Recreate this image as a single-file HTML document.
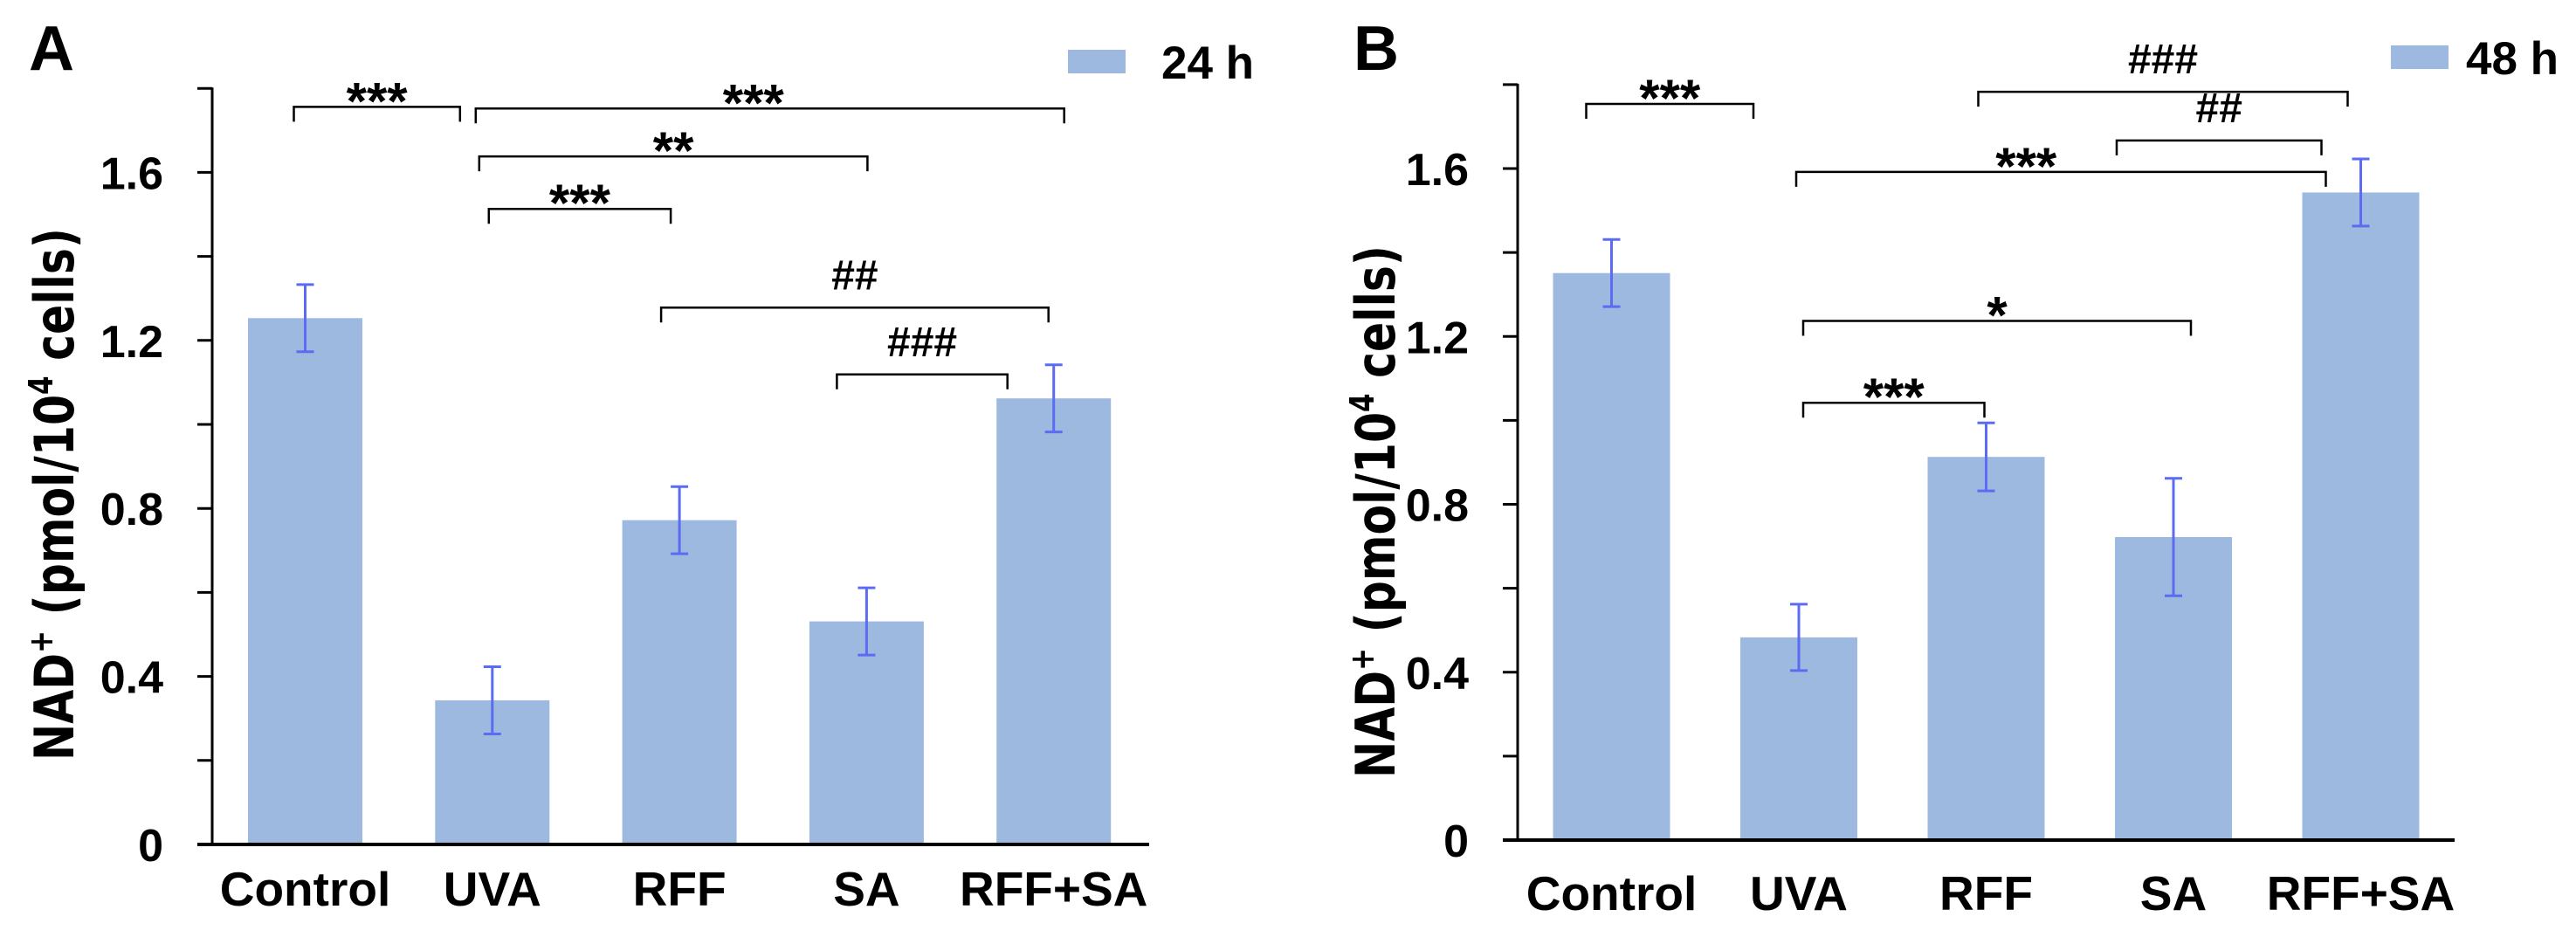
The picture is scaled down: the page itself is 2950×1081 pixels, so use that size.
<!DOCTYPE html>
<html><head><meta charset="utf-8"><style>
html,body{margin:0;padding:0;background:#fff}
svg{display:block}
text{font-family:"Liberation Sans",Arial,sans-serif;font-weight:bold;fill:#000}
</style></head><body>
<svg id="chart" width="2950" height="1081" viewBox="0 0 2950 1081" xmlns="http://www.w3.org/2000/svg"></svg>
<script>
const categories = ["Control","UVA","RFF","SA","RFF+SA"];
const valuesA = [1.253, 0.343, 0.772, 0.531, 1.062];
const errorsA = [0.08, 0.08, 0.08, 0.08, 0.08];
const valuesB = [1.351, 0.483, 0.913, 0.722, 1.543];
const errorsB = [0.08, 0.079, 0.081, 0.14, 0.08];
const yTicks = [0, 0.4, 0.8, 1.2, 1.6];
const yTickLabels = ["0","0.4","0.8","1.2","1.6"];
const yMinor = [0.2, 0.6, 1.0, 1.4, 1.8];
// significance: [fromIndex, fromOffset, toIndex, toOffset, label, level, textShift]
const sigA = [[0,-13,1,-37,"***",1.756,0],[1,-19,4,12,"***",1.752,-19],[1,-15,3,1,"**",1.638,0],[1,-4,2,-10,"***",1.513,0],[2,-21,4,-6,"##",1.278,0],[3,-34,4,-53,"###",1.119,0]];
const sigB = [[0,-29,1,-52,"***",1.754,0],[2,-9,4,-15,"###",1.783,0],[3,-65,4,-45,"##",1.667,0],[1,-3,4,-40,"***",1.592,-40],[1,5,3,20,"*",1.237,0],[1,5,2,-2,"***",1.042,0]];

const NS = "http://www.w3.org/2000/svg";
const svg = document.getElementById('chart');
function mk(tag, attrs, parent){
  const e = document.createElementNS(NS, tag);
  for (const k in attrs) e.setAttribute(k, attrs[k]);
  (parent||svg).appendChild(e);
  return e;
}

function panel(cfg){
  const g = mk('g', {});
  
  
  const x0 = cfg.axisX, y0 = cfg.zeroY, ppu = cfg.ppu;
  const yS = v => y0 - v*ppu;
  const xC = i => cfg.firstCenter + i*cfg.step;
  cfg.values.forEach((v,i)=>{
    const r = mk('rect', {x: xC(i)-cfg.barW/2, y: yS(v), width: cfg.barW, height: y0 - yS(v), fill:'#9db9df'}, g);
    
    
  });
  cfg.values.forEach((v,i)=>{
    const eg = mk('g', {stroke:'#5b6cf2','stroke-width':3}, g);
    
    
    const hi = yS(v + cfg.errors[i]), lo = yS(v - cfg.errors[i]), cx = xC(i);
    mk('line', {x1:cx, x2:cx, y1:hi, y2:lo}, eg);
    mk('line', {x1:cx-10, x2:cx+10, y1:hi, y2:hi}, eg);
    mk('line', {x1:cx-10, x2:cx+10, y1:lo, y2:lo}, eg);
  });
  const ax = mk('g', {stroke:'#000','stroke-width':3}, g);
  
  
  mk('line', {x1:x0, x2:x0, y1:yS(1.8)-1, y2:y0+1.5}, ax);
  yTicks.concat(yMinor).forEach(t=>{
    mk('line', {x1:x0-17, x2:x0, y1:yS(t), y2:yS(t)}, ax);
  });
  const xa = mk('line', {x1:x0-17, x2:cfg.axisEnd, y1:y0, y2:y0, stroke:'#000','stroke-width':4}, g);
  
  
  yTicks.forEach((t,i)=>{
    const tx = mk('text', {x:x0-56, y:yS(t)+19, 'text-anchor':'end', 'font-size':52}, g);
    tx.textContent = yTickLabels[i];
    
    
  });
  categories.forEach((c,i)=>{
    const tx = mk('text', {x:xC(i), y:cfg.labelY, 'text-anchor':'middle', 'font-size':55}, g);
    tx.textContent = c;
    
    
  });
  const tt = mk('text', {x:0, y:0, 'text-anchor':'middle', 'font-size':62, style:'font-family:"DejaVu Sans",sans-serif', transform:`translate(${cfg.titleX} ${cfg.titleY}) rotate(-90)`, textLength:610, lengthAdjust:'spacingAndGlyphs'}, g);
  
  
  tt.innerHTML = 'NAD<tspan font-size="38" dy="-24">+</tspan><tspan dy="24"> (pmol/10</tspan><tspan font-size="38" dy="-24">4</tspan><tspan dy="24"> cells)</tspan>';
  const pl = mk('text', {x:cfg.letterX, y:80, 'font-size':72}, g);
  pl.textContent = cfg.letter;
  
  
  const lg = mk('g', {}, g);
  
  
  mk('rect', {x:cfg.legX, y:cfg.legY, width:66, height:27, fill:'#9db9df'}, lg);
  const lt = mk('text', {x:cfg.legTextX, y:cfg.legY+33, 'font-size':53}, lg);
  lt.textContent = cfg.legend;
  cfg.sig.forEach(s=>{
    const bg = mk('g', {}, g);
    
    
    const xa1 = xC(s[0]) + s[1], xa2 = xC(s[2]) + s[3];
    const by = yS(s[5]);
    mk('path', {d:`M${xa1} ${by+17} V${by} H${xa2} V${by+17}`, fill:'none', stroke:'#000', 'stroke-width':2.5}, bg);
    const star = s[4].indexOf('*') >= 0;
    const t = mk('text', {x:(xa1+xa2)/2 + s[6], y: star ? by+14 : by-21, 'text-anchor':'middle', 'font-size': star ? 60 : 48}, bg);
    t.textContent = s[4];
  });
}

panel({id:'panel-a-24h', letter:'A', letterX:33, axisX:243, zeroY:967, ppu:481, firstCenter:349.5, step:214.3, barW:131, axisEnd:1316, labelY:1037,
  values:valuesA, errors:errorsA, sig:sigA, titleX:84, titleY:566, legX:1223, legY:57, legTextX:1330, legend:'24 h'});
panel({id:'panel-b-48h', letter:'B', letterX:1550, axisX:1738, zeroY:962, ppu:480.6, firstCenter:1845.5, step:214.5, barW:134, axisEnd:2811, labelY:1042,
  values:valuesB, errors:errorsB, sig:sigB, titleX:1597, titleY:586, legX:2738, legY:52, legTextX:2824, legend:'48 h'});
</script>
</body></html>
